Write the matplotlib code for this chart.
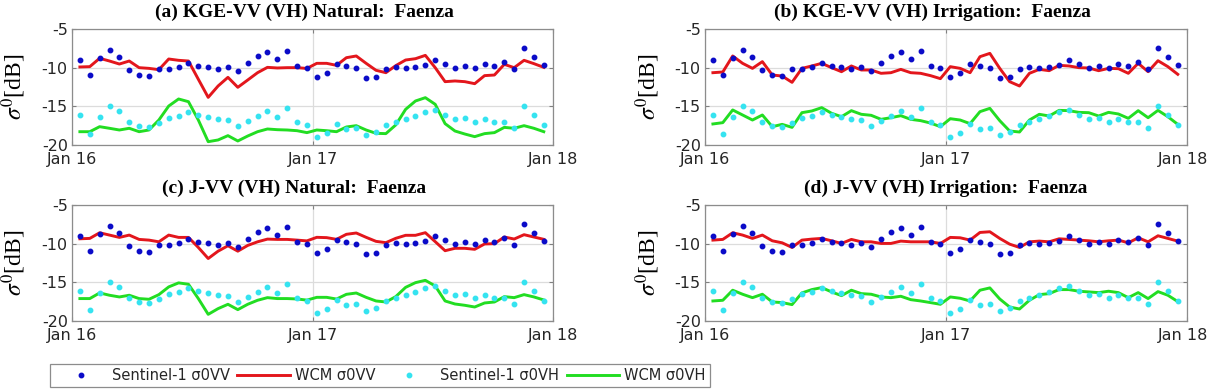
import numpy as np
import pandas as pd
import matplotlib
matplotlib.use("Agg")
import matplotlib.pyplot as plt
import matplotlib.transforms as mtransforms

plt.rcParams["mathtext.fontset"] = "stix"

# ---------------- data ----------------
dates = pd.to_datetime([
    "2016-01-13", "2016-01-28", "2016-02-12", "2016-02-27", "2016-03-13", "2016-03-28",
    "2016-04-12", "2016-04-27", "2016-05-12", "2016-05-27", "2016-06-11", "2016-06-26",
    "2016-07-11", "2016-07-26", "2016-08-10", "2016-08-25", "2016-09-09", "2016-09-24",
    "2016-10-09", "2016-10-24", "2016-11-08", "2016-11-23", "2016-12-08", "2016-12-23",
    "2017-01-07", "2017-01-22", "2017-02-06", "2017-02-21", "2017-03-08", "2017-03-23",
    "2017-04-07", "2017-04-22", "2017-05-07", "2017-05-22", "2017-06-06", "2017-06-21",
    "2017-07-06", "2017-07-21", "2017-08-05", "2017-08-20", "2017-09-04", "2017-09-19",
    "2017-10-04", "2017-10-19", "2017-11-03", "2017-11-18", "2017-12-03", "2017-12-18",
])

s1_vv = [-9.05, -11.0, -8.75, -7.76, -8.66, -10.26, -11.0, -11.08, -10.2, -10.2, -9.87, -9.44,
         -9.74, -9.87, -10.13, -9.91, -10.43, -9.44, -8.45, -8.02, -8.92, -7.84, -9.74, -10.04,
         -11.27, -10.67, -9.57, -9.78, -10.09, -11.36, -11.27, -10.13, -9.87, -10.04, -9.87, -9.6,
         -9.05, -9.57, -10.09, -9.78, -10.09, -9.48, -9.74, -9.31, -10.2, -7.41, -8.58, -9.7]

s1_vh = [-16.16, -18.58, -16.34, -14.96, -15.65, -17.03, -17.54, -17.72, -17.11, -16.51, -16.25, -15.69,
         -16.12, -16.34, -16.64, -16.77, -17.5, -16.9, -16.25, -15.56, -16.38, -15.22, -17.07, -17.46,
         -18.95, -18.4, -17.26, -17.98, -17.74, -18.68, -18.26, -17.4, -17.02, -16.66, -16.2, -15.69,
         -15.47, -16.16, -16.62, -16.45, -17.0, -16.66, -17.0, -16.98, -17.76, -14.9, -16.16, -17.44]

# (a) KGE Natural
a_vv = [-9.91, -9.87, -8.79, -9.14, -9.53, -9.14, -10.0, -10.09, -10.26, -8.88, -9.05, -9.14,
        -11.5, -13.84, -12.37, -11.25, -12.54, -11.6, -10.65, -9.96, -10.04, -10.0, -10.0, -10.1,
        -9.44, -9.44, -9.7, -8.71, -8.49, -9.44, -10.34, -10.65, -9.74, -9.01, -8.84, -8.41,
        -10.0, -11.81, -11.72, -11.81, -12.07, -11.03, -10.95, -9.57, -10.0, -9.05, -9.48, -9.96]
a_vh = [-18.28, -18.28, -17.63, -17.84, -18.06, -17.84, -18.28, -18.06, -16.77, -14.96, -14.05, -14.4,
        -16.77, -19.57, -19.35, -18.79, -19.48, -18.84, -18.28, -17.93, -18.02, -18.06, -18.15, -18.4,
        -18.06, -18.15, -18.28, -17.67, -17.5, -18.06, -18.49, -18.53, -17.41, -15.39, -14.31, -13.88,
        -14.74, -17.24, -18.19, -18.58, -18.92, -18.53, -18.4, -17.72, -17.84, -17.5, -17.84, -18.28]

# (b) KGE Irrigation
b_vv = [-10.65, -10.56, -8.49, -9.44, -10.09, -9.22, -10.95, -11.08, -11.9, -10.09, -9.78, -9.44,
        -10.0, -10.52, -9.78, -10.3, -10.3, -10.73, -10.65, -10.22, -10.65, -10.73, -11.03, -11.42,
        -9.87, -10.09, -10.65, -8.58, -8.15, -10.09, -11.81, -12.37, -10.73, -10.22, -10.39, -9.7,
        -9.78, -10.0, -10.04, -10.39, -10.09, -10.13, -10.73, -9.44, -10.52, -9.1, -9.87, -10.86]
b_vh = [-17.28, -17.11, -15.47, -16.12, -16.77, -16.12, -17.63, -17.33, -17.72, -15.82, -15.6, -15.17,
        -15.9, -16.34, -15.56, -16.03, -16.16, -16.68, -16.47, -16.21, -16.68, -16.85, -17.16, -17.63,
        -16.6, -16.77, -17.24, -15.69, -15.26, -16.85, -18.19, -18.32, -16.77, -16.03, -16.25, -15.52,
        -15.56, -15.78, -15.82, -16.25, -15.78, -15.99, -16.55, -15.56, -16.47, -15.52, -16.34, -17.33]

# (c) J Natural
c_vv = [-9.37, -9.32, -8.59, -8.89, -9.19, -8.89, -9.45, -9.54, -9.76, -8.89, -9.19, -9.19,
        -10.49, -11.92, -10.97, -10.27, -10.97, -10.23, -9.76, -9.41, -9.45, -9.45, -9.54, -9.64,
        -9.18, -9.22, -9.44, -8.79, -8.62, -9.18, -9.7, -9.87, -9.31, -8.92, -8.92, -8.58,
        -9.74, -10.91, -10.6, -10.6, -10.73, -10.04, -10.0, -9.14, -9.4, -8.84, -9.14, -9.44]
c_vh = [-17.1, -17.1, -16.37, -16.67, -16.89, -16.67, -17.1, -17.19, -16.59, -15.59, -15.07, -15.25,
        -17.1, -19.14, -18.4, -17.84, -18.53, -17.84, -17.32, -16.98, -17.1, -17.1, -17.15, -17.3,
        -16.94, -16.94, -17.16, -16.55, -16.38, -16.94, -17.41, -17.54, -16.85, -15.65, -15.04, -14.74,
        -15.47, -17.41, -17.8, -17.97, -18.19, -17.67, -17.54, -16.85, -16.98, -16.59, -16.89, -17.28]

# (d) J Irrigation
d_vv = [-9.54, -9.45, -8.59, -8.89, -9.32, -8.89, -9.63, -9.89, -10.49, -9.54, -9.41, -9.32,
        -9.63, -9.97, -9.45, -9.76, -9.76, -9.97, -9.97, -9.67, -9.76, -9.76, -9.76, -9.97,
        -9.19, -9.24, -9.54, -8.55, -8.46, -9.32, -10.06, -10.49, -9.76, -9.67, -9.76, -9.37,
        -9.45, -9.54, -9.63, -9.76, -9.63, -9.54, -9.89, -9.24, -9.76, -8.98, -9.32, -9.67]
d_vh = [-17.41, -17.32, -16.02, -16.54, -16.98, -16.54, -17.54, -17.62, -17.88, -16.37, -15.94, -15.68,
        -16.24, -16.72, -16.02, -16.46, -16.54, -16.89, -16.98, -16.8, -17.24, -17.41, -17.62, -17.84,
        -16.89, -17.06, -17.41, -16.02, -15.72, -17.15, -18.19, -18.45, -17.32, -16.59, -16.46, -15.94,
        -15.94, -16.15, -16.24, -16.33, -16.15, -16.33, -16.98, -16.33, -17.1, -16.2, -16.67, -17.49]

titles = ["(a) KGE-VV (VH) Natural:  Faenza", "(b) KGE-VV (VH) Irrigation:  Faenza",
          "(c) J-VV (VH) Natural:  Faenza", "(d) J-VV (VH) Irrigation:  Faenza"]
panels = [(a_vv, a_vh), (b_vv, b_vh), (c_vv, c_vh), (d_vv, d_vh)]
xticks = pd.to_datetime(["2016-01-01", "2017-01-01", "2018-01-01"])
xticklabels = ["Jan 16", "Jan 17", "Jan 18"]
yticks = [-20, -15, -10, -5]
legend_labels = ["Sentinel-1 σ0VV", "WCM σ0VV", "Sentinel-1 σ0VH", "WCM σ0VH"]

# ---------------- style ----------------
C_VV_PT = "#0B0BC8"
C_VH_PT = "#35E3F0"
C_VV_LN = "#E3161C"
C_VH_LN = "#22DD22"
TXT = "#262626"

fig = plt.figure(figsize=(12.09, 3.89), dpi=100)
W, H = 1209, 389
pos = [(72, 29, 553, 145), (705, 29, 1187, 145), (72, 205, 553, 321), (705, 205, 1187, 321)]
ylab_x = [28, 662, 28, 662]          # right edge of the rotated y label (px)
title_shift = [-8, -14, -18, 0]      # title centre offset from axes centre (px)
last_tick_shift = [0, -4, 0, -4]     # keep the right-most date label inside the canvas (px)

handles = None
for (vv, vh), title, (l, t, r, b), yx, ts, lts in zip(panels, titles, pos, ylab_x,
                                                      title_shift, last_tick_shift):
    ax = fig.add_axes([l / W, 1 - b / H, (r - l) / W, (b - t) / H])
    h1, = ax.plot(dates, s1_vv, linestyle="none", marker="o", ms=3.2, color=C_VV_PT, zorder=3)
    h2, = ax.plot(dates, vv, color=C_VV_LN, lw=2.1, zorder=2)
    h3, = ax.plot(dates, s1_vh, linestyle="none", marker="o", ms=3.2, color=C_VH_PT, zorder=3)
    h4, = ax.plot(dates, vh, color=C_VH_LN, lw=2.1, zorder=2)
    handles = [h1, h2, h3, h4]
    ax.set_xlim(xticks[0], xticks[-1])
    ax.set_ylim(-20, -5)
    ax.set_xticks(xticks)
    ax.set_xticklabels(xticklabels)
    ax.set_yticks(yticks)
    ax.set_yticklabels([str(v) for v in yticks])
    ax.grid(True, color="#DCDCDC", lw=0.9, zorder=0)
    ax.set_axisbelow(True)
    ax.tick_params(direction="in", length=3, width=0.8, color="#808080",
                   labelsize=11.5, labelcolor=TXT, top=True, right=True)
    ax.tick_params(axis="x", pad=5)
    ax.tick_params(axis="y", pad=3)
    if lts:
        lab = ax.get_xticklabels()[-1]
        lab.set_transform(lab.get_transform() +
                          mtransforms.ScaledTranslation(lts / 100, 0, fig.dpi_scale_trans))
    for s in ax.spines.values():
        s.set_color("#8C8C8C")
        s.set_linewidth(0.9)
    ax.set_title(title, fontfamily="Liberation Serif", fontweight="bold", fontsize=14,
                 color="black", pad=9, x=0.5 + ts / (r - l))
    ax.set_ylabel(r"$\sigma^0$[dB]", fontfamily="Liberation Serif", fontsize=17,
                  color="black")
    ax.yaxis.set_label_coords((yx - l) / (r - l), 0.5)

leg = fig.legend(handles, legend_labels, loc="center", ncol=4,
                 bbox_to_anchor=(380 / W, 1 - 375.5 / H), fontsize=10.5,
                 frameon=True, fancybox=False, edgecolor="#8C8C8C", framealpha=1,
                 handlelength=3.6, handletextpad=0.35, columnspacing=0.5,
                 borderpad=0.3, labelcolor=TXT, markerscale=1.0)
leg.get_frame().set_linewidth(0.9)

fig.savefig("out.png", dpi=100)
